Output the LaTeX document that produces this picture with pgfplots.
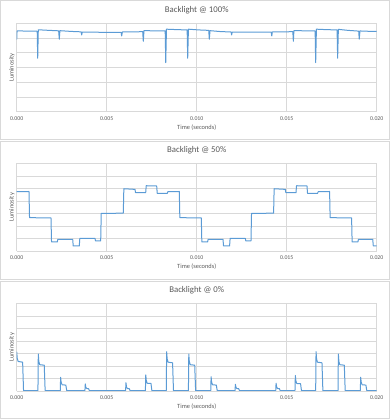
\documentclass[border=0pt]{standalone}
\usepackage{fontspec}
\setmainfont{Carlito}
\usepackage{pgfplots}
\pgfplotsset{compat=1.18}
\definecolor{gridgrey}{HTML}{D9D9D9}
\definecolor{txtgrey}{HTML}{595959}
\definecolor{lineblue}{HTML}{5B9BD5}
\pgfplotsset{panel/.style={
  scale only axis, width=360bp,
  xmin=0, xmax=0.02, ymin=0,
  xtick={0,0.005,0.01,0.015,0.02},
  xticklabels={0.000,0.005,0.010,0.015,0.020},
  scaled x ticks=false,
  yticklabels={},
  grid=major, major grid style={draw=gridgrey, line width=0.6bp},
  axis line style={draw=none}, tick style={draw=none},
  /pgf/number format/assume math mode=true,
  every axis title shift=0pt,
  xticklabel style={font=\fontsize{5.8}{6}\selectfont, text=txtgrey, anchor=center, yshift=-6.6bp},
  title style={font=\fontsize{8.8}{10}\selectfont, text=txtgrey, at={(axis description cs:0.5,1.151)}, anchor=center},
  xlabel style={font=\fontsize{6.4}{7}\selectfont, text=txtgrey, at={(axis description cs:0.5,-0.182)}, anchor=center},
  ylabel style={font=\fontsize{6.4}{7}\selectfont, text=txtgrey, at={(axis description cs:-0.013,0.5)}, anchor=center},
  xlabel={Time (seconds)}, ylabel={Luminosity},
  cycle list={{lineblue, line width=1bp, mark=none, line join=round}},
}}
\begin{document}
\begin{tikzpicture}
\path[use as bounding box] (0,0) rectangle (390bp,419bp);
\draw[draw=gridgrey, line width=0.75bp] (0.5bp,280bp) rectangle (389.5bp,418.5bp);
\draw[draw=gridgrey, line width=0.75bp] (0.5bp,140bp) rectangle (389.5bp,278bp);
\draw[draw=gridgrey, line width=0.75bp] (0.5bp,0.5bp) rectangle (389.5bp,138bp);

% Panel 1
\begin{axis}[panel, at={(16.7bp,307.3bp)}, anchor=south west, height=88.4bp,
  ymax=6, ytick={0,1,2,3,4,5,6}, title={Backlight @ 100\%}]
\addplot[lineblue, line width=1bp, mark=none, line join=round] coordinates {
(0,4.9) (0.00002,5.48) (0.0011,5.47) (0.00114,5.45) (0.001167,3.63) (0.0012,5.56) (0.0018,5.52)
(0.00233,5.49) (0.002367,4.92) (0.0024,5.5) (0.0030,5.45) (0.00358,5.42) (0.00361,5.21) (0.00364,5.40)
(0.0048,5.39) (0.0058,5.39) (0.005833,5.14) (0.00587,5.41) (0.0065,5.42) (0.007,5.43) (0.007033,4.78)
(0.00707,5.5) (0.0076,5.49) (0.00825,5.48) (0.00828,3.33) (0.00832,5.6) (0.0089,5.57) (0.00947,5.55)
(0.0095,3.63) (0.00954,5.6) (0.0101,5.55) (0.01067,5.52) (0.0107,4.92) (0.01074,5.5) (0.0113,5.44)
(0.01191,5.41) (0.01194,5.21) (0.01197,5.4) (0.013,5.4) (0.01414,5.4) (0.01417,5.14) (0.0142,5.41)
(0.0148,5.42) (0.01534,5.43) (0.01537,4.78) (0.0154,5.5) (0.0161,5.49) (0.01658,5.48) (0.01661,3.33)
(0.01665,5.6) (0.0172,5.57) (0.0178,5.55) (0.01783,3.63) (0.01787,5.59) (0.0184,5.52) (0.019,5.47)
(0.01903,4.92) (0.01907,5.48) (0.0195,5.46) (0.02,5.45)
};
\end{axis}

% Panel 2
\begin{axis}[panel, at={(16.7bp,168bp)}, anchor=south west, height=87.7bp,
  ymax=7, ytick={0,1,2,3,4,5,6,7}, title={Backlight @ 50\%}]
\addplot[lineblue, line width=1bp, mark=none, line join=round] coordinates {
(0,4.73) (0.000683,4.75) (0.000713,2.66) (0.001905,2.64) (0.001935,0.72) (0.002255,0.72) (0.002285,0.93)
(0.003111,0.93) (0.003141,0.40) (0.003477,0.40) (0.003507,1.01) (0.004350,1.01) (0.004380,0.80)
(0.004666,0.80) (0.004696,3.00) (0.005922,3.02) (0.005952,4.97) (0.006572,4.92) (0.006602,4.65)
(0.007166,4.65) (0.007196,5.21) (0.007777,5.19) (0.007807,4.60) (0.008366,4.60) (0.008396,4.73)
(0.009033,4.75) (0.009063,2.66) (0.010255,2.64) (0.010285,0.72) (0.010605,0.72) (0.010635,0.93)
(0.011461,0.93) (0.011491,0.40) (0.011827,0.40) (0.011857,1.01) (0.012700,1.01) (0.012730,0.80)
(0.013016,0.80) (0.013046,3.00) (0.014272,3.02) (0.014302,4.97) (0.014922,4.92) (0.014952,4.65)
(0.015516,4.65) (0.015546,5.21) (0.016127,5.19) (0.016157,4.60) (0.016716,4.60) (0.016746,4.73)
(0.017383,4.75) (0.017413,2.66) (0.018605,2.64) (0.018635,0.72) (0.018955,0.72) (0.018985,0.93)
(0.019781,0.93) (0.019811,0.40) (0.02,0.40)
};
\end{axis}

% Panel 3
\begin{axis}[panel, at={(16.7bp,28bp)}, anchor=south west, height=87.7bp,
  ymax=7, ytick={0,1,2,3,4,5,6,7}, title={Backlight @ 0\%}]
\addplot[lineblue, line width=1bp, mark=none, line join=round] coordinates {
(0,3.14) (0.00003,2.6) (0.00008,2.36) (0.00033,2.30) (0.00038,0.03)
(0.00118,0.03) (0.00120,2.95) (0.00123,2.35) (0.00128,2.10) (0.00153,2.06) (0.00158,0.03)
(0.00242,0.03) (0.00244,1.09) (0.00247,0.70) (0.00252,0.50) (0.00273,0.47) (0.00278,0.03)
(0.00379,0.03) (0.00381,0.56) (0.00384,0.30) (0.00389,0.20) (0.00399,0.19) (0.00404,0.03)
(0.00605,0.03) (0.00607,0.66) (0.00610,0.32) (0.00615,0.20) (0.00625,0.19) (0.00630,0.03)
(0.00715,0.03) (0.00717,1.28) (0.00720,0.82) (0.00725,0.62) (0.00746,0.60) (0.00751,0.03)
(0.00831,0.03) (0.00833,3.14) (0.00836,2.55) (0.00841,2.30) (0.00866,2.25) (0.00871,0.03)
(0.00954,0.03) (0.00956,2.95) (0.00959,2.35) (0.00964,2.10) (0.00989,2.06) (0.00994,0.03)
(0.01078,0.03) (0.01080,1.14) (0.01083,0.70) (0.01088,0.50) (0.01109,0.47) (0.01114,0.03)
(0.01213,0.03) (0.01215,0.53) (0.01218,0.30) (0.01223,0.20) (0.01233,0.19) (0.01238,0.03)
(0.01439,0.03) (0.01441,0.62) (0.01444,0.32) (0.01449,0.20) (0.01459,0.19) (0.01464,0.03)
(0.01546,0.03) (0.01548,1.24) (0.01551,0.80) (0.01556,0.60) (0.01577,0.58) (0.01582,0.03)
(0.01661,0.03) (0.01663,3.14) (0.01666,2.55) (0.01671,2.30) (0.01696,2.25) (0.01701,0.03)
(0.01785,0.03) (0.01787,2.95) (0.01790,2.35) (0.01795,2.10) (0.01820,2.06) (0.01825,0.03)
(0.01909,0.03) (0.01911,1.10) (0.01914,0.70) (0.01919,0.50) (0.01940,0.47) (0.01945,0.03)
(0.02,0.03)
};
\end{axis}
\end{tikzpicture}
\end{document}
